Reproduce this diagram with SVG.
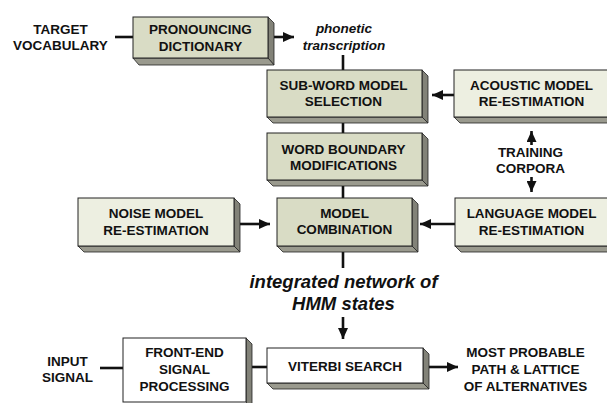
<svg xmlns="http://www.w3.org/2000/svg" width="607" height="403" viewBox="0 0 607 403">
<defs>
<style>
.t{font-family:"Liberation Sans",Arial,sans-serif;font-weight:bold;font-size:13.5px;fill:#111;text-anchor:middle}
.i{font-family:"Liberation Sans",Arial,sans-serif;font-weight:bold;font-style:italic;fill:#111;text-anchor:middle}
.dk{fill:#d9dcc5;stroke:#222;stroke-width:1}
.lt{fill:#edefe1;stroke:#222;stroke-width:1}
.wh{fill:#ffffff;stroke:#222;stroke-width:1}
.sd{fill:#828278;stroke:#222;stroke-width:0.8}
.bt{fill:#9a9a8e;stroke:#222;stroke-width:0.8}
.c{stroke:#111;stroke-width:2.6;fill:none}
.a{stroke:#111;stroke-width:2.6;fill:none;marker-end:url(#ah)}
</style>
<marker id="ah" markerUnits="userSpaceOnUse" viewBox="0 0 11 10" refX="11" refY="5" markerWidth="11" markerHeight="10" orient="auto">
<path d="M0,0 L11,5 L0,10 z" fill="#111"/>
</marker>
</defs>

<g id="connectors">
<line class="c" x1="115" y1="37" x2="133" y2="37"/>
<line class="a" x1="274" y1="37" x2="294" y2="37"/>
<line class="c" x1="343" y1="55" x2="343" y2="70"/>
<line class="c" x1="343" y1="123" x2="343" y2="133"/>
<line class="c" x1="343" y1="186" x2="343" y2="198"/>
<line class="a" x1="454" y1="95" x2="432" y2="95"/>
<line class="a" x1="240" y1="224" x2="270" y2="224"/>
<line class="a" x1="455" y1="224" x2="420" y2="224"/>
<line class="a" x1="531.5" y1="145" x2="531.5" y2="131"/>
<line class="a" x1="531.5" y1="177" x2="531.5" y2="192"/>
<line class="c" x1="343" y1="252" x2="343" y2="268"/>
<line class="a" x1="343" y1="317" x2="343" y2="339"/>
<line class="c" x1="100" y1="368" x2="123" y2="368"/>
<line class="c" x1="251" y1="367" x2="267" y2="367"/>
<line class="a" x1="428" y1="367" x2="458" y2="367"/>
</g>

<g id="target-vocabulary">
<text class="t" x="60.5" y="33.5">TARGET</text>
<text class="t" x="60.5" y="50">VOCABULARY</text>
</g>

<g id="pronouncing-dictionary">
<polygon class="sd" points="268,17 274,23 274,65 268,58"/>
<polygon class="bt" points="133,58 268,58 274,65 139,65"/>
<rect class="dk" x="133" y="17" width="135" height="41"/>
<text class="t" x="200.5" y="33.5">PRONOUNCING</text>
<text class="t" x="200.5" y="50.5">DICTIONARY</text>
</g>

<g id="phonetic-transcription">
<text class="i" font-size="13.5" x="344" y="33">phonetic</text>
<text class="i" font-size="13.5" x="344" y="50">transcription</text>
</g>

<g id="sub-word-model-selection">
<polygon class="sd" points="422,70 428,76 428,123 422,117"/>
<polygon class="bt" points="267,117 422,117 428,123 273,123"/>
<rect class="dk" x="267" y="70" width="155" height="47"/>
<text class="t" x="343.5" y="89.5">SUB-WORD MODEL</text>
<text class="t" x="343.5" y="106">SELECTION</text>
</g>

<g id="acoustic-model-re-estimation">
<polygon class="bt" points="454,117 609,117 615,123 460,123"/>
<rect class="lt" x="454" y="70" width="155" height="47"/>
<text class="t" x="531.5" y="89.5">ACOUSTIC MODEL</text>
<text class="t" x="531.5" y="105.5">RE-ESTIMATION</text>
</g>

<g id="word-boundary-modifications">
<polygon class="sd" points="422,133 428,139 428,186 422,180"/>
<polygon class="bt" points="267,180 422,180 428,186 273,186"/>
<rect class="dk" x="267" y="133" width="155" height="47"/>
<text class="t" x="343.5" y="153.5">WORD BOUNDARY</text>
<text class="t" x="343.5" y="170">MODIFICATIONS</text>
</g>

<g id="training-corpora">
<text class="t" x="530.5" y="157">TRAINING</text>
<text class="t" x="530.5" y="173">CORPORA</text>
</g>

<g id="noise-model-re-estimation">
<polygon class="sd" points="234,198 240,204 240,252 234,246"/>
<polygon class="bt" points="78,246 234,246 240,252 84,252"/>
<rect class="lt" x="78" y="198" width="156" height="48"/>
<text class="t" x="156" y="218">NOISE MODEL</text>
<text class="t" x="156" y="234.5">RE-ESTIMATION</text>
</g>

<g id="model-combination">
<polygon class="sd" points="412,198 418,204 418,252 412,246"/>
<polygon class="bt" points="277,246 412,246 418,252 283,252"/>
<rect class="dk" x="277" y="198" width="135" height="48"/>
<text class="t" x="344.5" y="217.5">MODEL</text>
<text class="t" x="344.5" y="234">COMBINATION</text>
</g>

<g id="language-model-re-estimation">
<polygon class="bt" points="455,246 610,246 616,252 461,252"/>
<rect class="lt" x="455" y="198" width="155" height="48"/>
<text class="t" x="531.5" y="218">LANGUAGE MODEL</text>
<text class="t" x="531.5" y="234.5">RE-ESTIMATION</text>
</g>

<g id="integrated-network">
<text class="i" font-size="18.5" x="343.5" y="288">integrated network of</text>
<text class="i" font-size="18.5" x="343.5" y="310">HMM states</text>
</g>

<g id="input-signal">
<text class="t" x="67.5" y="366">INPUT</text>
<text class="t" x="67.5" y="382">SIGNAL</text>
</g>

<g id="front-end-signal-processing">
<polygon class="sd" points="246,338 252,344 252,408 246,402"/>
<rect class="wh" x="123" y="338" width="123" height="64"/>
<text class="t" x="184.5" y="357">FRONT-END</text>
<text class="t" x="184.5" y="374">SIGNAL</text>
<text class="t" x="184.5" y="391">PROCESSING</text>
</g>

<g id="viterbi-search">
<polygon class="sd" points="423,348 429,354 429,389 423,383"/>
<polygon class="bt" points="267,383 423,383 429,389 273,389"/>
<rect class="wh" x="267" y="348" width="156" height="35"/>
<text class="t" x="345" y="370.5">VITERBI SEARCH</text>
</g>

<g id="most-probable-path">
<text class="t" x="525.5" y="357">MOST PROBABLE</text>
<text class="t" x="525.5" y="374">PATH &amp; LATTICE</text>
<text class="t" x="525.5" y="391">OF ALTERNATIVES</text>
</g>
</svg>
